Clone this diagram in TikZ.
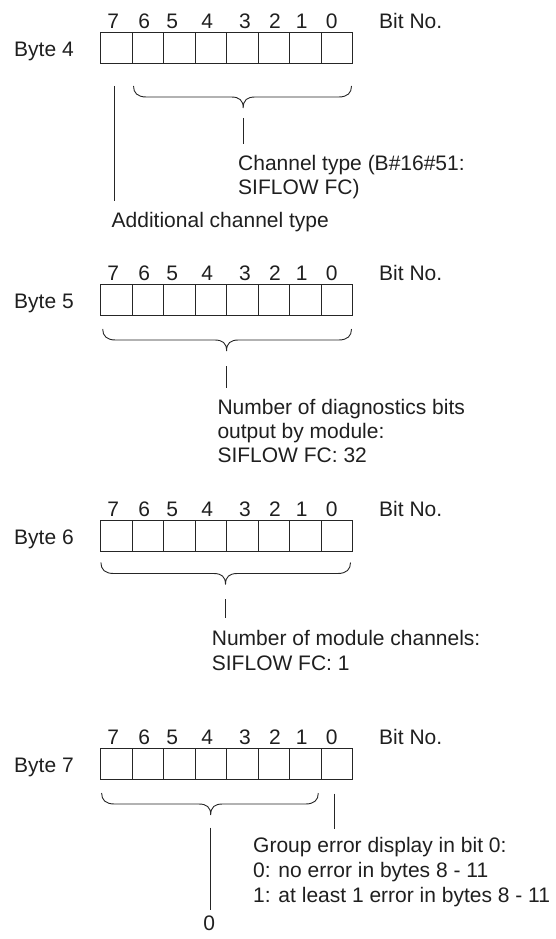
\documentclass[tikz,border=0pt]{standalone}
\usepackage{fontspec}
\setmainfont{Liberation Sans}
\tikzset{
  ln/.style={draw=black!85, line width=0.9pt},
  cell/.style={draw=black!85, line width=0.9pt, minimum width=31.5pt, minimum height=31pt, inner sep=0pt, outer sep=0pt},
  txt/.style={font=\fontsize{21}{24}\selectfont, text=black!88, inner sep=0pt, text height=15pt, text depth=0pt, anchor=west},
  bitnum/.style={txt, anchor=center},
}
\newcommand\drawbyte[3]{%
  \foreach \k in {0,...,7}{\node[cell] (#1c\k) at ({100.5+31.5*(7-\k)+15.75},{#2+15.5}) {};}
  \foreach \k/\dx in {7/13.3,6/44.3,5/72.3,4/107.3,3/145,2/175,1/201.7,0/231.7}{\node[bitnum] (#1n\k) at ({100+\dx},{#2-11.5}) {\k};}
  \node[txt] (#1bit) at (379,{#2-11.5}) {Bit No.};
  \node[txt] (#1lab) at (14,{#2+16.5}) {Byte #3};
}
\newcommand\drawbrace[4]{%
  \draw[ln] (#1,#4) .. controls (#1,#4+7) and (#1+4,#4+11) .. (#1+13,#4+11)
    -- (#3-12,#4+11) .. controls (#3-4,#4+11) and (#3,#4+14) .. (#3,#4+22)
    .. controls (#3,#4+14) and (#3+4,#4+11) .. (#3+12,#4+11)
    -- (#2-13,#4+11) .. controls (#2-4,#4+11) and (#2,#4+7) .. (#2,#4);
}
\begin{document}
\begin{tikzpicture}[x=1pt,y=-1pt]
\useasboundingbox (0,0) rectangle (555,939);
% ---------- Byte 4
\drawbyte{bA}{32.3}{4}
\drawbrace{133.5}{351.5}{243.2}{86}
\coordinate (bAt) at (243.2,118);
\coordinate (bAb) at (243.2,144);
\draw[ln] (bAt) -- (bAb);
\node[txt] (bAtx1) at (238,163) {Channel type (B\#16\#51:};
\node[txt] (bAtx2) at (238,187) {SIFLOW FC)};
\coordinate (bAlt) at (114.3,86);
\coordinate (bAlb) at (114.3,201);
\draw[ln] (bAlt) -- (bAlb);
\node[txt] (bAadd) at (111.5,220) {Additional channel type};
% ---------- Byte 5
\drawbyte{bB}{284.7}{5}
\drawbrace{102.7}{351.5}{226.6}{329}
\coordinate (bBt) at (226.6,366);
\coordinate (bBb) at (226.6,388);
\draw[ln] (bBt) -- (bBb);
\node[txt] (bBtx1) at (217.3,406.7) {Number of diagnostics bits};
\node[txt] (bBtx2) at (217.3,430.7) {output by module:};
\node[txt] (bBtx3) at (217.3,455) {SIFLOW FC: 32};
% ---------- Byte 6
\drawbyte{bC}{520.7}{6}
\drawbrace{100.9}{350.5}{225.5}{562.5}
\coordinate (bCt) at (225.5,599.4);
\coordinate (bCb) at (225.5,618);
\draw[ln] (bCt) -- (bCb);
\node[txt] (bCtx1) at (211.7,638) {Number of module channels:};
\node[txt] (bCtx2) at (211.7,663) {SIFLOW FC: 1};
% ---------- Byte 7
\drawbyte{bD}{748.2}{7}
\drawbrace{101.6}{318.3}{210.7}{793}
\coordinate (bDt) at (210.7,827.7);
\coordinate (bDb) at (210.7,910);
\draw[ln] (bDt) -- (bDb);
\node[bitnum] (bDzero) at (209.3,923) {0};
\coordinate (bDrt) at (334,793.6);
\coordinate (bDrb) at (334,829);
\draw[ln] (bDrt) -- (bDrb);
\node[txt] (bDtx1) at (253,845) {Group error display in bit 0:};
\node[txt] (bDtx2) at (253,870) {0: no error in bytes 8 - 11};
\node[txt] (bDtx3) at (253,895) {1: at least 1 error in bytes 8 - 11};
\end{tikzpicture}
\end{document}
